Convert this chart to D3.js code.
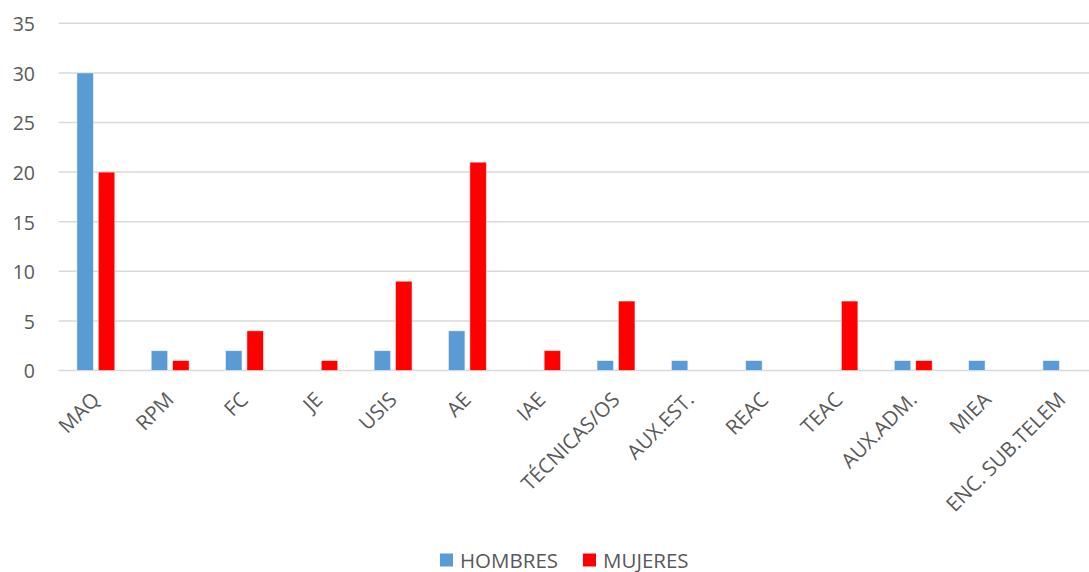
<!DOCTYPE html>
<html><head><meta charset="utf-8">
<script src="https://cdn.jsdelivr.net/npm/d3@7"></script>
<style>body{margin:0;background:#fff;} text{font-family:"Open Sans","Noto Sans",sans-serif;fill:#595959;}</style>
</head><body><svg id="c" width="1089" height="572"></svg>
<script>
const categories = ["MAQ","RPM","FC","JE","USIS","AE","IAE","TÉCNICAS/OS","AUX.EST.","REAC","TEAC","AUX.ADM.","MIEA","ENC. SUB.TELEM"];
const hombres = [30,2,2,0,2,4,0,1,1,1,0,1,1,1];
const mujeres = [20,1,4,1,9,21,2,7,0,0,7,1,0,0];
const seriesNames = ["HOMBRES","MUJERES"];
const colors = ["#5B9BD5","#FF0000"];
const yTicks = [0,5,10,15,20,25,30,35];

(function(){
const svg = d3.select("#c");
const pLeft = 58.7, pRight = 1099, pTop = 23.3, pBottom = 370.5;
const x0 = d3.scaleBand().domain(categories).range([pLeft,pRight]).paddingInner(0.49).paddingOuter(0.245);
const x1 = d3.scaleBand().domain(seriesNames).range([0,x0.bandwidth()]).paddingInner(0.23);
const y = d3.scaleLinear().domain([0,35]).range([pBottom,pTop]);

const g = svg.append("g");
g.selectAll("line.grid").data(yTicks).enter().append("line")
 .attr("x1",pLeft).attr("x2",pRight).attr("y1",d=>y(d)).attr("y2",d=>y(d))
 .attr("stroke","#D9D9D9").attr("stroke-width",1.5);
g.selectAll("text.yl").data(yTicks).enter().append("text")
 .attr("x",35).attr("y",d=>y(d)+7.8).attr("text-anchor","end").attr("font-size",19.5).text(d=>d);

const data = categories.map((c,i)=>({c, vals:[hombres[i],mujeres[i]]}));
const cg = g.selectAll("g.cat").data(data).enter().append("g").attr("transform",d=>`translate(${x0(d.c)},0)`);
cg.selectAll("rect").data(d=>d.vals.map((v,j)=>({v,s:seriesNames[j],j})).filter(d=>d.v>0)).enter().append("rect")
 .attr("x",d=>x1(d.s)).attr("width",x1.bandwidth())
 .attr("y",d=>y(d.v)).attr("height",d=>y(0)-y(d.v))
 .attr("fill",d=>colors[d.j]).attr("stroke","#fff").attr("stroke-width",0.8).attr("stroke-opacity",0.6);

g.selectAll("text.xl").data(categories).enter().append("text")
 .attr("transform",d=>`translate(${x0(d)+x0.bandwidth()/2+5},${401}) rotate(-45)`)
 .attr("text-anchor","end").attr("font-size",20.5).text(d=>d);

const leg = svg.append("g");
const lx = [440,583];
seriesNames.forEach((s,i)=>{
  leg.append("rect").attr("x",lx[i]).attr("y",553.5).attr("width",13).attr("height",13).attr("fill",colors[i]);
  leg.append("text").attr("x",lx[i]+20).attr("y",567.5).attr("font-size",20.5).text(s);
});
})();
</script></body></html>
